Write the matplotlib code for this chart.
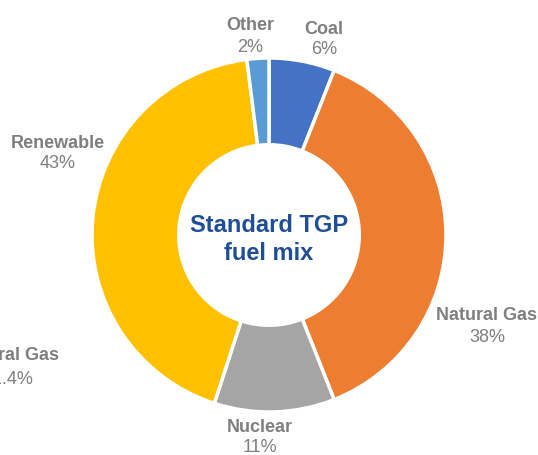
import matplotlib.pyplot as plt

# fuel mix shares (%), clockwise from 12 o'clock
labels = ['Coal', 'Natural Gas', 'Nuclear', 'Renewable', 'Other']
shares = [6, 38, 11, 43, 2]
colors = ['#4472C4', '#ED7D31', '#A5A5A5', '#FFC000', '#5B9BD5']

# partly visible label from a neighbouring chart on the left
side_label = 'Natural Gas'
side_value = '41.4%'

plt.rcParams['font.family'] = ['Liberation Sans', 'DejaVu Sans']

W, H = 538, 455
fig = plt.figure(figsize=(W / 100, H / 100), dpi=100)
ax = fig.add_axes([0, 0, 1, 1])

cx, cy = 269, H - 235
R = 177
ax.pie(shares, colors=colors, startangle=90, counterclock=False,
       center=(cx, cy), radius=R, frame=True,
       wedgeprops=dict(width=R * 0.49, edgecolor='white', linewidth=2.5))
ax.set_xlim(0, W)
ax.set_ylim(0, H)
ax.set_aspect('equal')
ax.axis('off')

# label positions (image pixels, top-left origin): name line, value line
pos = {
    'Coal': (324, 29, 50),
    'Natural Gas': (487, 315, 337),
    'Nuclear': (260, 428, 448),
    'Renewable': (58, 144, 164),
    'Other': (250, 25, 47),
}
grey = '#7F7F7F'
fs = 13
for name, val in zip(labels, shares):
    x, y1, y2 = pos[name]
    ax.text(x, H - y1, name, ha='center', va='center', color=grey,
            fontsize=fs, fontweight='bold')
    ax.text(x, H - y2, f'{val}%', ha='center', va='center', color=grey,
            fontsize=fs)

ax.text(8, H - 356, side_label, ha='center', va='center', color=grey,
        fontsize=fs, fontweight='bold')
ax.text(8, H - 380, side_value, ha='center', va='center', color=grey,
        fontsize=fs)

ax.text(cx, H - 225, 'Standard TGP', ha='center', va='center',
        color='#1F4E99', fontsize=17, fontweight='bold')
ax.text(cx, H - 253, 'fuel mix', ha='center', va='center',
        color='#1F4E99', fontsize=17, fontweight='bold')

fig.savefig('out.png', dpi=100)
